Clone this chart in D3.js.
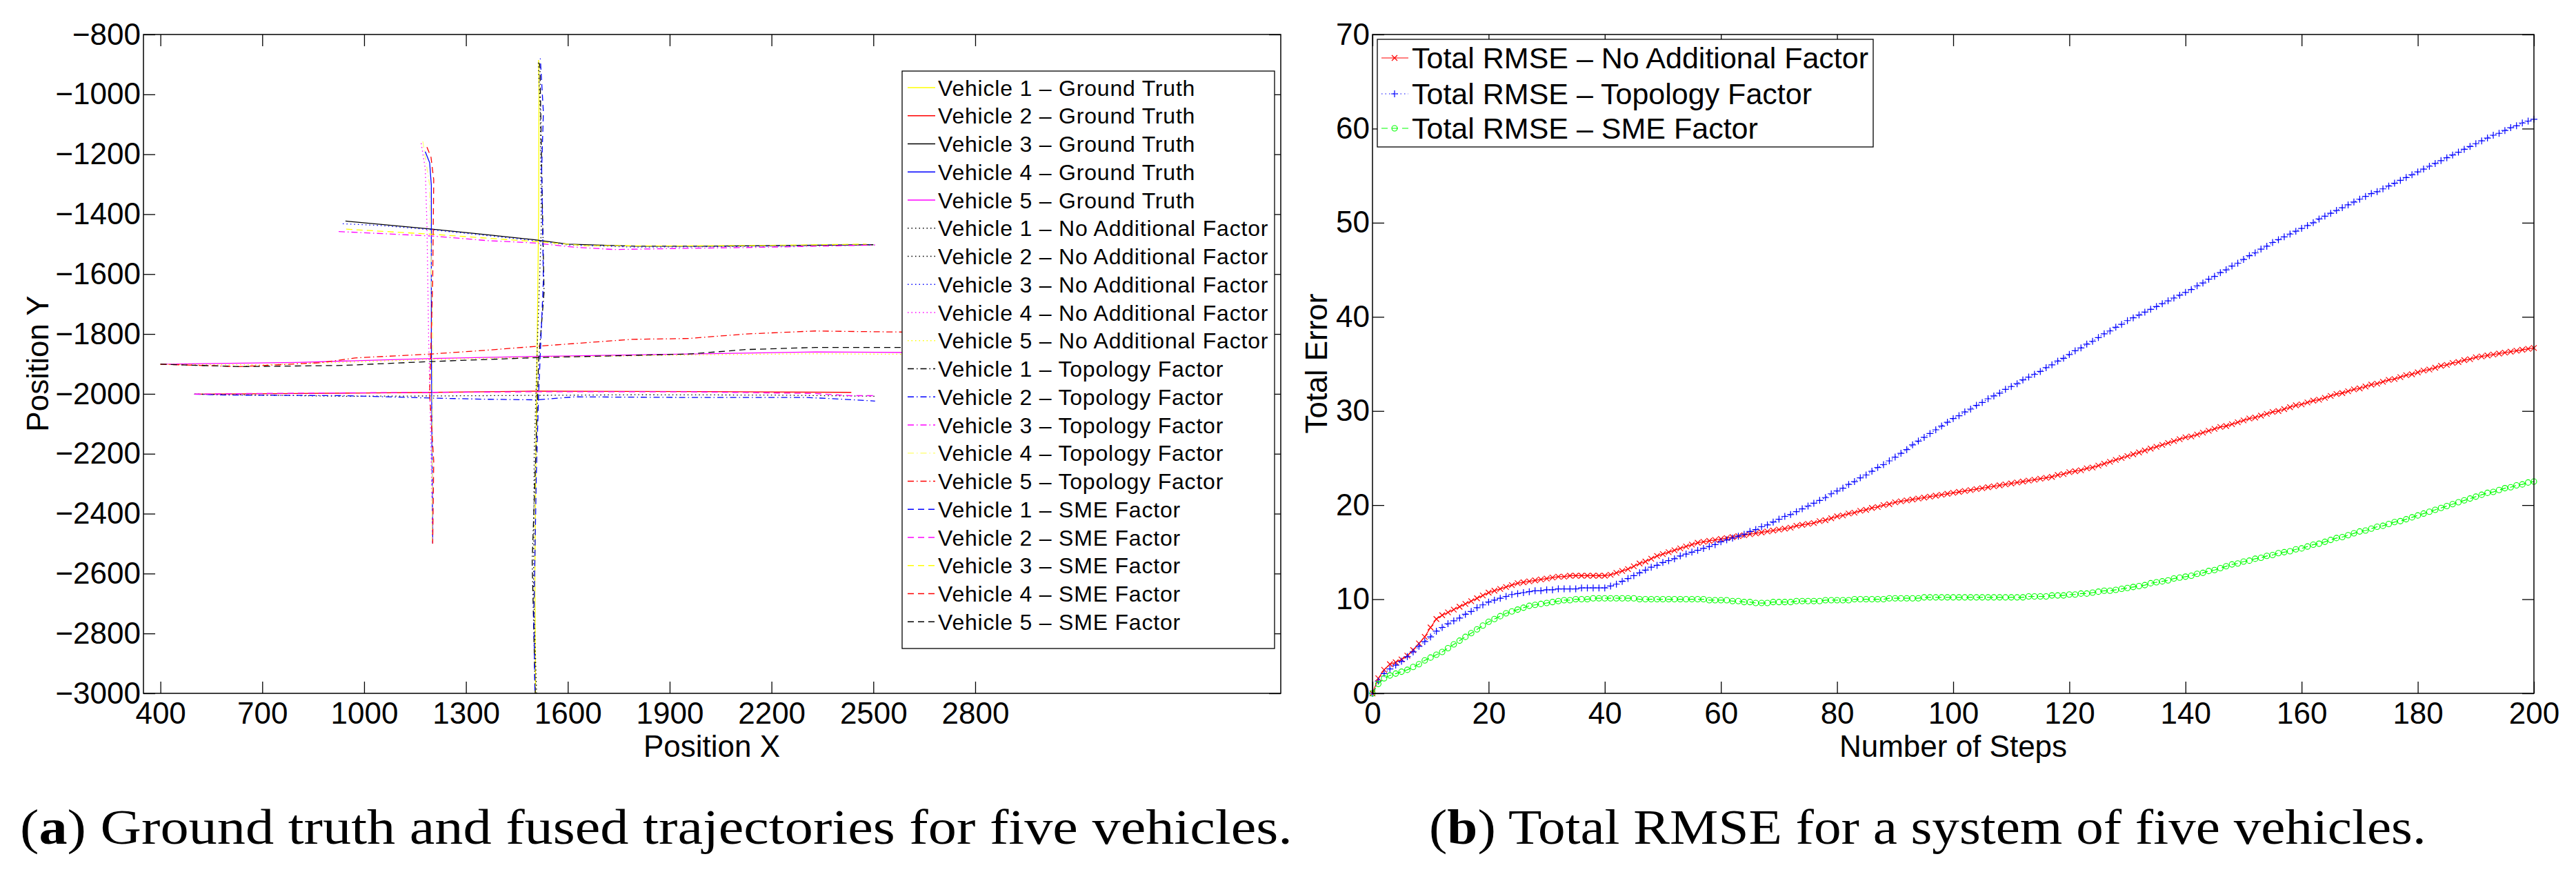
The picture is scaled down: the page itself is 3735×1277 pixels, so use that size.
<!DOCTYPE html>
<html>
<head>
<meta charset="utf-8">
<script src="https://cdn.jsdelivr.net/npm/d3@7"></script>
<style>
  body { margin: 0; background: #fff; }
  svg { display: block; }
</style>
</head>
<body>
<svg id="fig" width="3735" height="1277"></svg>
<script>
// ---- (a) trajectories, [x, y] in metres ----
const v1Truth    = [[1505,-3000],[1503,-2600],[1506,-2200],[1510,-1800],[1514,-1400],[1515,-1000],[1514,-885]];
const v2Truth    = [[500,-2001],[800,-1999],[1200,-1995],[1350,-1993],[1500,-1991],[1800,-1992],[2100,-1993],[2435,-1995]];
const v3Truth    = [[945,-1423],[1200,-1450],[1350,-1467],[1500,-1485],[1600,-1500],[1800,-1507],[2000,-1507],[2500,-1502]];
const v4Truth    = [[1180,-1191],[1193,-1228],[1198,-1304],[1198,-1810],[1200,-2200],[1202,-2500]];
const v5Truth    = [[400,-1901],[800,-1895],[1200,-1882],[1510,-1875],[1956,-1867],[2330,-1860],[2620,-1862]];

const v1NoFactor = [[1508,-3000],[1499,-2650],[1501,-2200],[1511,-1810],[1522,-1440],[1519,-1060],[1513,-890]];
const v2NoFactor = [[500,-2001],[940,-2008],[1200,-2007],[1510,-2005],[1800,-2003],[2200,-2004],[2510,-2008]];
const v3NoFactor = [[937,-1432],[1050,-1438],[1200,-1452],[1500,-1488],[1600,-1503],[1800,-1510],[2100,-1508],[2490,-1502]];
const v4NoFactor = [[1168,-1163],[1180,-1247],[1185,-1435],[1190,-1810],[1197,-2187],[1202,-2500]];
const v5NoFactor = [[400,-1902],[700,-1903],[1200,-1885],[1510,-1878],[1956,-1870],[2330,-1866],[2620,-1868]];

const v1Topology = [[1504,-3000],[1495,-2560],[1506,-2190],[1514,-1890],[1530,-1660],[1523,-1250],[1518,-910],[1516,-895]];
const v2Topology = [[500,-2001],[600,-2004],[940,-2006],[1200,-2014],[1360,-2018],[1510,-2020],[1620,-2010],[1960,-2012],[2300,-2012],[2380,-2016],[2505,-2024]];
const v3Topology = [[925,-1458],[1000,-1462],[1200,-1473],[1360,-1488],[1500,-1496],[1617,-1510],[1736,-1518],[1956,-1514],[2200,-1510],[2505,-1503]];
const v4Topology = [[1173,-1157],[1193,-1304],[1202,-1810],[1200,-2490]];
const v5Topology = [[400,-1901],[634,-1909],[871,-1896],[973,-1880],[1197,-1867],[1363,-1854],[1510,-1841],[1787,-1818],[1956,-1815],[2125,-1800],[2329,-1790],[2465,-1792],[2620,-1794]];

const v1Sme      = [[1503,-2990],[1500,-2750],[1507,-2280],[1514,-2000],[1528,-1620],[1523,-1250],[1528,-1060],[1519,-880]];
const v2Sme      = [[500,-2001],[650,-1999],[900,-1997],[1200,-1995],[1510,-1993],[1960,-1993],[2330,-1999],[2430,-2006],[2505,-2006]];
const v3Sme      = [[947,-1450],[1200,-1467],[1500,-1491],[1650,-1505],[1900,-1506],[2200,-1504],[2480,-1500]];
const v4Sme      = [[1185,-1176],[1197,-1210],[1205,-1285],[1202,-1620],[1193,-2000],[1205,-2225],[1202,-2500]];
const v5Sme      = [[400,-1901],[634,-1909],[939,-1905],[1197,-1892],[1510,-1879],[1956,-1867],[2125,-1852],[2329,-1845],[2620,-1845]];

const posXTicks = [400, 700, 1000, 1300, 1600, 1900, 2200, 2500, 2800];
const posYTicks = [-800, -1000, -1200, -1400, -1600, -1800, -2000, -2200, -2400, -2600, -2800, -3000];

// ---- (b) total RMSE per step (0..200) ----
const rmseNoFactor = [
  0, 1.6, 2.5, 3.1, 3.3, 3.6, 4.0, 4.6, 5.3, 6.0,
  7.0, 7.9, 8.3, 8.6, 8.9, 9.2, 9.5, 9.8, 10.1, 10.4,
  10.7, 10.9, 11.1, 11.3, 11.5, 11.7, 11.8, 11.9, 12.0, 12.1,
  12.2, 12.3, 12.4, 12.4, 12.5, 12.5, 12.5, 12.5, 12.5, 12.5,
  12.5, 12.6, 12.8, 13.0, 13.2, 13.5, 13.8, 14.0, 14.3, 14.6,
  14.8, 15.0, 15.2, 15.4, 15.6, 15.8, 16.0, 16.1, 16.2, 16.3,
  16.4, 16.5, 16.6, 16.7, 16.8, 16.9, 17.0, 17.1, 17.2, 17.3,
  17.4, 17.5, 17.6, 17.8, 17.9, 18.0, 18.1, 18.3, 18.4, 18.6,
  18.8, 18.9, 19.1, 19.2, 19.4, 19.5, 19.7, 19.8, 20.0, 20.1,
  20.3, 20.4, 20.5, 20.6, 20.7, 20.8, 20.9, 21.0, 21.1, 21.2,
  21.3, 21.4, 21.5, 21.6, 21.7, 21.8, 21.9, 22.0, 22.1, 22.2,
  22.3, 22.4, 22.5, 22.6, 22.7, 22.8, 22.9, 23.0, 23.2, 23.3,
  23.5, 23.6, 23.7, 23.9, 24.0, 24.2, 24.4, 24.6, 24.8, 25.0,
  25.2, 25.4, 25.6, 25.8, 26.0, 26.2, 26.4, 26.6, 26.8, 27.0,
  27.2, 27.3, 27.5, 27.7, 27.9, 28.1, 28.3, 28.4, 28.6, 28.8,
  29.0, 29.2, 29.3, 29.5, 29.7, 29.9, 30.0, 30.2, 30.4, 30.6,
  30.7, 30.9, 31.1, 31.2, 31.4, 31.6, 31.8, 31.9, 32.1, 32.3,
  32.4, 32.6, 32.8, 32.9, 33.1, 33.3, 33.4, 33.6, 33.8, 33.9,
  34.1, 34.3, 34.4, 34.6, 34.8, 34.9, 35.1, 35.2, 35.4, 35.5,
  35.7, 35.8, 35.9, 36.0, 36.1, 36.2, 36.3, 36.4, 36.5, 36.6,
  36.7
];
const rmseTopology = [
  0, 1.3, 2.1, 2.6, 3.0, 3.4, 3.9, 4.4, 5.0, 5.5,
  6.0, 6.6, 7.0, 7.4, 7.7, 8.0, 8.4, 8.7, 9.1, 9.4,
  9.7, 9.9, 10.1, 10.3, 10.5, 10.6, 10.7, 10.8, 10.9, 10.9,
  11.0, 11.0, 11.1, 11.1, 11.1, 11.1, 11.2, 11.2, 11.2, 11.2,
  11.2, 11.4, 11.6, 11.9, 12.2, 12.5, 12.8, 13.1, 13.4, 13.6,
  13.9, 14.1, 14.3, 14.6, 14.8, 15.0, 15.2, 15.4, 15.6, 15.8,
  16.1, 16.3, 16.5, 16.7, 16.9, 17.2, 17.4, 17.7, 17.9, 18.2,
  18.5, 18.8, 19.0, 19.3, 19.6, 19.9, 20.2, 20.5, 20.8, 21.2,
  21.5, 21.8, 22.2, 22.5, 22.9, 23.2, 23.6, 24.0, 24.3, 24.7,
  25.1, 25.5, 25.9, 26.4, 26.8, 27.2, 27.6, 28.0, 28.4, 28.8,
  29.2, 29.5, 29.9, 30.2, 30.6, 30.9, 31.3, 31.6, 31.9, 32.3,
  32.6, 32.9, 33.3, 33.6, 33.9, 34.2, 34.6, 34.9, 35.3, 35.6,
  36.0, 36.4, 36.7, 37.1, 37.4, 37.8, 38.2, 38.5, 38.9, 39.2,
  39.6, 39.9, 40.2, 40.5, 40.8, 41.1, 41.4, 41.7, 42.0, 42.3,
  42.6, 42.9, 43.3, 43.6, 44.0, 44.3, 44.7, 45.0, 45.4, 45.7,
  46.1, 46.5, 46.8, 47.2, 47.5, 47.9, 48.2, 48.5, 48.8, 49.1,
  49.4, 49.7, 50.0, 50.4, 50.7, 51.0, 51.3, 51.6, 51.9, 52.2,
  52.5, 52.8, 53.1, 53.3, 53.6, 53.9, 54.2, 54.5, 54.8, 55.1,
  55.4, 55.7, 56.0, 56.3, 56.6, 56.9, 57.2, 57.5, 57.8, 58.1,
  58.4, 58.7, 59.0, 59.3, 59.5, 59.8, 60.1, 60.3, 60.6, 60.8,
  61.0
];
const rmseSme = [
  0, 1.0, 1.6, 1.9, 2.1, 2.3, 2.5, 2.8, 3.1, 3.5,
  3.8, 4.1, 4.4, 4.8, 5.2, 5.6, 6.0, 6.4, 6.8, 7.2,
  7.6, 7.9, 8.2, 8.5, 8.7, 8.9, 9.1, 9.3, 9.4, 9.5,
  9.6, 9.7, 9.8, 9.9, 9.9, 10.0, 10.0, 10.0, 10.1, 10.1,
  10.1, 10.1, 10.1, 10.1, 10.1, 10.1, 10.0, 10.0, 10.0, 10.0,
  10.0, 10.0, 10.0, 10.0, 10.0, 10.0, 10.0, 10.0, 9.9, 9.9,
  9.9, 9.9, 9.8, 9.8, 9.7, 9.7, 9.6, 9.6, 9.6, 9.7,
  9.7, 9.7, 9.7, 9.8, 9.8, 9.8, 9.8, 9.8, 9.9, 9.9,
  9.9, 9.9, 9.9, 10.0, 10.0, 10.0, 10.0, 10.0, 10.0, 10.1,
  10.1, 10.1, 10.1, 10.1, 10.1, 10.2, 10.2, 10.2, 10.2, 10.2,
  10.2, 10.2, 10.2, 10.2, 10.2, 10.2, 10.2, 10.2, 10.2, 10.2,
  10.2, 10.2, 10.2, 10.3, 10.3, 10.3, 10.3, 10.4, 10.4, 10.4,
  10.5, 10.5, 10.6, 10.6, 10.7, 10.8, 10.9, 10.9, 11.0, 11.1,
  11.2, 11.3, 11.4, 11.5, 11.7, 11.8, 11.9, 12.0, 12.2, 12.3,
  12.4, 12.5, 12.7, 12.8, 13.0, 13.1, 13.3, 13.5, 13.7, 13.8,
  14.0, 14.1, 14.3, 14.4, 14.6, 14.7, 14.9, 15.0, 15.1, 15.3,
  15.4, 15.6, 15.8, 15.9, 16.1, 16.3, 16.5, 16.6, 16.8, 17.0,
  17.2, 17.3, 17.5, 17.7, 17.8, 18.0, 18.2, 18.3, 18.5, 18.7,
  18.9, 19.1, 19.3, 19.5, 19.7, 19.9, 20.1, 20.3, 20.5, 20.7,
  20.9, 21.1, 21.3, 21.4, 21.6, 21.8, 21.9, 22.1, 22.2, 22.4,
  22.5
];

const stepTicks = [0, 20, 40, 60, 80, 100, 120, 140, 160, 180, 200];
const errorTicks = [0, 10, 20, 30, 40, 50, 60, 70];

// ---- styles ----
const SANS = '"Liberation Sans", Arial, Helvetica, sans-serif';
const SERIF = '"Liberation Serif", "Times New Roman", serif';
const DASH = { solid: null, dot: "1.5,4", dash: "9,6", dashdot: "9,4,1.5,4" };

const trajSeries = [
  { name: "Vehicle 1 – Ground Truth", pts: v1Truth, color: "#ffff00", dash: "solid" },
  { name: "Vehicle 2 – Ground Truth", pts: v2Truth, color: "#ff0000", dash: "solid" },
  { name: "Vehicle 3 – Ground Truth", pts: v3Truth, color: "#000000", dash: "solid" },
  { name: "Vehicle 4 – Ground Truth", pts: v4Truth, color: "#0000ff", dash: "solid" },
  { name: "Vehicle 5 – Ground Truth", pts: v5Truth, color: "#ff00ff", dash: "solid" },
  { name: "Vehicle 1 – No Additional Factor", pts: v1NoFactor, color: "#000000", dash: "dot" },
  { name: "Vehicle 2 – No Additional Factor", pts: v2NoFactor, color: "#000000", dash: "dot" },
  { name: "Vehicle 3 – No Additional Factor", pts: v3NoFactor, color: "#0000ff", dash: "dot" },
  { name: "Vehicle 4 – No Additional Factor", pts: v4NoFactor, color: "#ff00ff", dash: "dot" },
  { name: "Vehicle 5 – No Additional Factor", pts: v5NoFactor, color: "#ffff00", dash: "dot" },
  { name: "Vehicle 1 – Topology Factor", pts: v1Topology, color: "#000000", dash: "dashdot" },
  { name: "Vehicle 2 – Topology Factor", pts: v2Topology, color: "#0000ff", dash: "dashdot" },
  { name: "Vehicle 3 – Topology Factor", pts: v3Topology, color: "#ff00ff", dash: "dashdot" },
  { name: "Vehicle 4 – Topology Factor", pts: v4Topology, color: "#ffff80", dash: "dashdot" },
  { name: "Vehicle 5 – Topology Factor", pts: v5Topology, color: "#ff0000", dash: "dashdot" },
  { name: "Vehicle 1 – SME Factor", pts: v1Sme, color: "#0000ff", dash: "dash" },
  { name: "Vehicle 2 – SME Factor", pts: v2Sme, color: "#ff00ff", dash: "dash" },
  { name: "Vehicle 3 – SME Factor", pts: v3Sme, color: "#ffff00", dash: "dash" },
  { name: "Vehicle 4 – SME Factor", pts: v4Sme, color: "#ff0000", dash: "dash" },
  { name: "Vehicle 5 – SME Factor", pts: v5Sme, color: "#000000", dash: "dash" }
];

const rmseSeries = [
  { name: "Total RMSE – No Additional Factor", vals: rmseNoFactor, color: "#ff0000", dash: "solid", marker: "x" },
  { name: "Total RMSE – Topology Factor", vals: rmseTopology, color: "#0000ff", dash: "dot", marker: "+" },
  { name: "Total RMSE – SME Factor", vals: rmseSme, color: "#00ff00", dash: "dash", marker: "o" }
];

const svg = d3.select("#fig");
svg.append("rect").attr("width", 3735).attr("height", 1277).attr("fill", "#fff");

// MATLAB-style boxed axes with inward ticks on all four sides
function drawFrame(x, y, xTicks, yTicks) {
  const [x0, x1] = x.range();
  const [yb, yt] = y.range();
  const T = 17;
  const g = svg.append("g");
  g.append("g").attr("transform", `translate(0,${yb})`)
    .call(d3.axisBottom(x).tickValues(xTicks).tickSizeInner(-T).tickSizeOuter(0).tickPadding(13).tickFormat(d3.format("d")));
  g.append("g").attr("transform", `translate(0,${yt})`)
    .call(d3.axisTop(x).tickValues(xTicks).tickSizeInner(-T).tickSizeOuter(0).tickFormat(""));
  g.append("g").attr("transform", `translate(${x0},0)`)
    .call(d3.axisLeft(y).tickValues(yTicks).tickSizeInner(-T).tickSizeOuter(0).tickPadding(4).tickFormat(d3.format("d")));
  g.append("g").attr("transform", `translate(${x1},0)`)
    .call(d3.axisRight(y).tickValues(yTicks).tickSizeInner(-T).tickSizeOuter(0).tickFormat(""));
  g.selectAll(".domain").remove();
  g.selectAll(".tick line").attr("stroke", "#000").attr("stroke-width", 1.3);
  g.selectAll(".tick text").attr("font-family", SANS).attr("font-size", 44).attr("fill", "#000");
  g.append("rect")
    .attr("x", x0).attr("y", yt).attr("width", x1 - x0).attr("height", yb - yt)
    .attr("fill", "none").attr("stroke", "#000").attr("stroke-width", 1.5);
}

function axisLabel(text, x, y, rotate) {
  svg.append("text")
    .attr("transform", `translate(${x},${y})` + (rotate ? " rotate(-90)" : ""))
    .attr("text-anchor", "middle")
    .attr("font-family", SANS).attr("font-size", 44)
    .text(text);
}

// ================= (a) trajectories =================
const xa = d3.scaleLinear().domain([350, 3700]).range([208, 1857]);
const ya = d3.scaleLinear().domain([-3000, -800]).range([1005, 50]);

svg.append("clipPath").attr("id", "clipA")
  .append("rect").attr("x", 208).attr("y", 50).attr("width", 1649).attr("height", 955);

const lineA = d3.line().x(d => xa(d[0])).y(d => ya(d[1]));
svg.append("g").attr("clip-path", "url(#clipA)")
  .selectAll("path").data(trajSeries).join("path")
  .attr("d", d => lineA(d.pts))
  .attr("fill", "none")
  .attr("stroke", d => d.color)
  .attr("stroke-width", 1.3)
  .attr("stroke-dasharray", d => DASH[d.dash]);

drawFrame(xa, ya, posXTicks, posYTicks);
axisLabel("Position X", 1032, 1097, false);
axisLabel("Position Y", 70, 527, true);

// legend (a)
const legA = { x: 1308, y: 103, w: 540, h: 837, row0: 127, pitch: 40.75 };
svg.append("clipPath").attr("id", "clipLegA")
  .append("rect").attr("x", legA.x).attr("y", legA.y).attr("width", legA.w).attr("height", legA.h);
const gA = svg.append("g");
gA.append("rect")
  .attr("x", legA.x).attr("y", legA.y).attr("width", legA.w).attr("height", legA.h)
  .attr("fill", "#fff").attr("stroke", "#000").attr("stroke-width", 1.3);
const rowsA = gA.append("g").attr("clip-path", "url(#clipLegA)")
  .selectAll("g").data(trajSeries).join("g")
  .attr("transform", (d, i) => `translate(0,${legA.row0 + i * legA.pitch})`);
rowsA.append("line")
  .attr("x1", 1316).attr("x2", 1356)
  .attr("stroke", d => d.color).attr("stroke-width", 1.3)
  .attr("stroke-dasharray", d => DASH[d.dash]);
rowsA.append("text")
  .attr("x", 1360).attr("y", 11.5)
  .attr("font-family", SANS).attr("font-size", 32).attr("letter-spacing", 0.8)
  .text(d => d.name);

// ================= (b) total RMSE =================
const xb = d3.scaleLinear().domain([0, 200]).range([1990, 3674]);
const yb = d3.scaleLinear().domain([0, 70]).range([1005, 50]);

const MARK = {
  x: "M-4,-4L4,4M-4,4L4,-4",
  "+": "M-5,0H5M0,-5V5"
};
function drawMarker(sel, s) {
  if (s.marker === "o") {
    sel.append("circle").attr("r", 4)
      .attr("fill", "none").attr("stroke", s.color).attr("stroke-width", 1.1);
  } else {
    sel.append("path").attr("d", MARK[s.marker])
      .attr("fill", "none").attr("stroke", s.color).attr("stroke-width", 1.2);
  }
}

const lineB = d3.line().x((d, i) => xb(i)).y(d => yb(d));
rmseSeries.forEach(s => {
  const g = svg.append("g");
  g.append("path")
    .attr("d", lineB(s.vals))
    .attr("fill", "none").attr("stroke", s.color).attr("stroke-width", 1.2)
    .attr("stroke-dasharray", DASH[s.dash]);
  g.selectAll("g").data(s.vals).join("g")
    .attr("transform", (d, i) => `translate(${xb(i)},${yb(d)})`)
    .each(function () { drawMarker(d3.select(this), s); });
});

drawFrame(xb, yb, stepTicks, errorTicks);
axisLabel("Number of Steps", 2832, 1097, false);
axisLabel("Total Error", 1924, 527, true);

// legend (b)
const legB = { x: 1997, y: 57, w: 719, h: 156, rows: [84, 136, 186] };
const gB = svg.append("g");
gB.append("rect")
  .attr("x", legB.x).attr("y", legB.y).attr("width", legB.w).attr("height", legB.h)
  .attr("fill", "#fff").attr("stroke", "#000").attr("stroke-width", 1.3);
const rowsB = gB.selectAll("g.row").data(rmseSeries).join("g")
  .attr("class", "row")
  .attr("transform", (d, i) => `translate(0,${legB.rows[i]})`);
rowsB.append("line")
  .attr("x1", 2003).attr("x2", 2042)
  .attr("stroke", d => d.color).attr("stroke-width", 1.2)
  .attr("stroke-dasharray", d => DASH[d.dash]);
rowsB.each(function (d) {
  const m = d3.select(this).append("g").attr("transform", "translate(2022,0)");
  drawMarker(m, d);
});
rowsB.append("text")
  .attr("x", 2047).attr("y", 15)
  .attr("font-family", SANS).attr("font-size", 43)
  .text(d => d.name);

// ================= captions =================
function caption(letter, rest, x, baseline, fitPrefix, fitWidth) {
  const g = svg.append("g");
  const t = g.append("text").attr("font-family", SERIF).attr("font-size", 72);
  t.append("tspan").text("(");
  t.append("tspan").attr("font-weight", "bold").text(letter);
  t.append("tspan").text(") " + rest);
  let sx;
  if (fitPrefix) {
    const probe = svg.append("text").attr("font-family", SERIF).attr("font-size", 72);
    probe.append("tspan").text("(");
    probe.append("tspan").attr("font-weight", "bold").text(letter);
    probe.append("tspan").text(") " + fitPrefix);
    sx = fitWidth / probe.node().getComputedTextLength();
    probe.remove();
  } else {
    sx = fitWidth / t.node().getComputedTextLength();
  }
  g.attr("transform", `translate(${x},${baseline}) scale(${sx},1)`);
}
caption("a", "Ground truth and fused trajectories for five vehicles.", 29, 1223,
        "Ground truth and fused trajectories", 1269);
caption("b", "Total RMSE for a system of five vehicles.", 2072, 1223, null, 1446);
</script>
</body>
</html>
